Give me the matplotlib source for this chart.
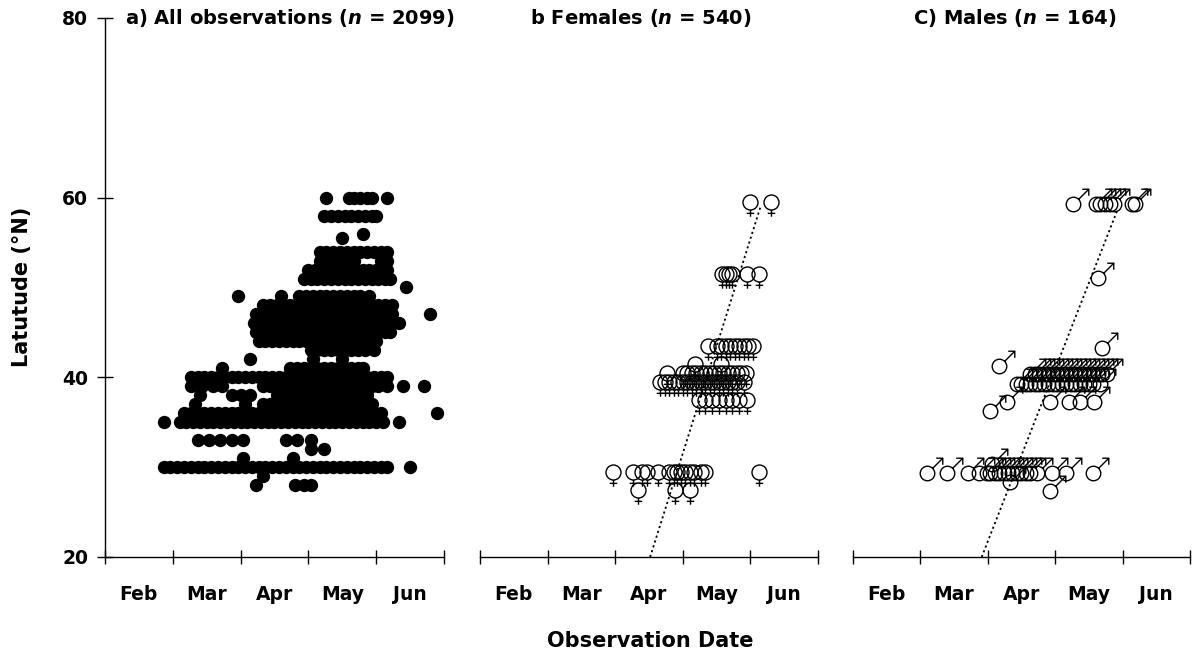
#!/usr/bin/env python3
"""
Latitude vs observation date, three panels: all observations,
females and males (sex symbols as markers), with the fitted trend lines.
"""

import matplotlib
matplotlib.use("Agg")
import matplotlib.pyplot as plt
from matplotlib.path import Path

plt.rcParams["font.family"] = "DejaVu Sans"
plt.rcParams["font.weight"] = "bold"
plt.rcParams["mathtext.fontset"] = "custom"
plt.rcParams["mathtext.it"] = "DejaVu Sans:italic:bold"
plt.rcParams["mathtext.rm"] = "DejaVu Sans:bold"

# x axis: day of the season, each month treated as 30 days (Feb starts at 30)
month_labels = ["Feb", "Mar", "Apr", "May", "Jun"]
month_edges = [30, 60, 90, 120, 150, 180]
month_mids = [45, 75, 105, 135, 165]
lat_ticks = [20, 40, 60, 80]

# a) all observations: latitude rows and the days seen at that latitude
all_lats = [28, 29, 30, 31, 32, 33, 35, 36, 37, 38, 39, 40, 41, 42, 43, 44,
            45, 46, 47, 48, 49, 50, 51, 52, 53, 54, 55.5, 56, 58, 60]
all_days = [
    [97, 114, 118, 121],
    [100],
    [56, 59, 62, 65, 68, 71, 74, 77, 80, 83, 86, 89, 92, 95, 98, 101, 104,
     107, 110, 113, 116, 119, 122, 125, 128, 131, 134, 137, 140, 143, 146,
     149, 152, 155, 165],
    [91, 113],
    [121, 127],
    [71, 76, 81, 86, 91, 110, 115, 121],
    [56, 63, 66, 69, 72, 75, 78, 81, 84, 87, 90, 93, 96, 99, 102, 105, 108,
     111, 114, 117, 120, 123, 126, 129, 132, 135, 138, 141, 144, 147, 150,
     153, 160],
    [65, 68, 71, 74, 77, 80, 83, 86, 89, 92, 95, 98, 101, 104, 107, 110, 113,
     116, 119, 122, 125, 128, 131, 134, 137, 140, 143, 146, 149, 152, 177],
    [70, 92, 100, 103, 106, 109, 112, 115, 118, 121, 124, 127, 130, 133, 136,
     139, 142, 145, 148],
    [72, 86, 90, 94, 106, 109, 112, 115, 118, 121, 124, 127, 130, 133, 136,
     139, 142, 146],
    [68, 73, 78, 82, 100, 103, 106, 109, 112, 115, 118, 121, 124, 127, 130,
     133, 136, 139, 142, 145, 148, 151, 155, 162, 171],
    [68, 71, 74, 77, 80, 83, 86, 89, 92, 95, 98, 101, 104, 107, 110, 113, 116,
     119, 122, 125, 128, 131, 134, 137, 140, 143, 146, 149, 152, 155],
    [82, 112, 115, 118, 121, 124, 127, 130, 133, 136, 139, 142, 144],
    [94, 122, 135],
    [121, 124, 127, 130, 133, 136, 139, 142, 145, 149],
    [98, 101, 104, 107, 110, 113, 116, 119, 122, 125, 128, 131, 134, 137, 140,
     143, 146, 150],
    [97, 100, 103, 106, 109, 112, 115, 118, 121, 124, 127, 130, 133, 136, 139,
     142, 145, 148, 151, 154, 156],
    [96, 99, 102, 105, 108, 111, 114, 117, 120, 123, 126, 129, 132, 135, 138,
     141, 144, 147, 150, 153, 156, 160],
    [97, 100, 103, 106, 109, 112, 115, 118, 121, 124, 127, 130, 133, 136, 139,
     142, 145, 148, 151, 154, 157, 174],
    [100, 103, 106, 109, 112, 115, 118, 121, 124, 127, 130, 133, 136, 139, 142,
     145, 148, 151, 154, 157],
    [89, 108, 116, 119, 122, 125, 128, 131, 134, 137, 140, 143, 147],
    [163],
    [118, 121, 124, 127, 130, 133, 136, 139, 142, 145, 148, 151, 154, 156],
    [120, 123, 126, 129, 132, 135, 138, 141, 144, 147, 150, 153, 155],
    [125, 128, 131, 134, 137, 140, 152, 155],
    [125, 128, 131, 134, 137, 140, 143, 146, 149, 152, 155],
    [135],
    [144],
    [127, 130, 133, 136, 139, 142, 145, 148, 150],
    [128, 138, 140, 143, 146, 148, 155],
]

# b) females
fem_lats = [59.5, 51.5, 43.5, 41.5, 40.5, 39.5, 37.5, 29.5, 27.5]
fem_days = [
    [150, 159],
    [137.5, 139, 140.5, 142, 148.5, 154],
    [131, 135, 137, 139, 141, 143, 145, 147, 149, 151],
    [125.5, 137],
    [113, 120, 122, 124, 126, 128, 130, 132, 134, 136, 138, 140, 142, 144,
     146, 148],
    [110, 112, 114, 116, 118, 120, 122, 124, 126, 128, 130, 132, 134, 136,
     138, 140, 142, 144, 147],
    [127, 130, 133, 136, 139, 142, 145, 148.5],
    [89, 98, 102, 104, 109, 114, 116, 117.5, 119, 121, 123, 125, 128, 130,
     154],
    [100, 116.5, 123],
]
fem_trend_days = [105.5, 154.5]
fem_trend_lats = [20, 59]

# c) males
male_lats = [59.3, 51.1, 43.3, 41.3, 40.4, 39.3, 37.2, 36.3, 30.4, 29.4,
             28.3, 27.4]
male_days = [
    [128, 138, 140, 142, 144.5, 146, 154, 155.5],
    [139],
    [141],
    [95],
    [109, 111, 113, 115, 117, 119, 121, 123, 125, 127, 129, 131, 133, 135,
     137, 139, 141, 143],
    [103, 105, 107, 109, 111, 113, 115, 117, 119, 121, 123, 125, 127, 129,
     131, 133, 135, 137, 140],
    [98.5, 117.5, 126, 131, 137.5],
    [91],
    [92],
    [63, 72, 81, 86, 89.5, 91, 93, 95, 97, 99, 101, 103, 105, 107, 109, 112,
     118.5, 125, 137],
    [100],
    [117.5],
]
male_trend_days = [87.3, 147.5]
male_trend_lats = [20, 58.5]


def flatten(lats, days):
    xs, ys = [], []
    for lat, row in zip(lats, days):
        xs.extend(row)
        ys.extend([lat] * len(row))
    return xs, ys


def female_marker():
    # circle centred on the point, cross below it
    circle = Path.circle((0, 0), 1.0)
    stem = Path([(0, -1.0), (0, -1.9)], [Path.MOVETO, Path.LINETO])
    bar = Path([(-0.5, -1.45), (0.5, -1.45)], [Path.MOVETO, Path.LINETO])
    return Path.make_compound_path(circle, stem, bar)


def male_marker():
    # circle centred on the point, arrow to the upper right
    circle = Path.circle((0, 0), 1.0)
    shaft = Path([(0.707, 0.707), (2.1, 2.1)], [Path.MOVETO, Path.LINETO])
    head = Path([(1.2, 2.1), (2.1, 2.1), (2.1, 1.2)],
                [Path.MOVETO, Path.LINETO, Path.LINETO])
    return Path.make_compound_path(circle, shaft, head)


def style_axis(ax, show_y):
    ax.set_xlim(month_edges[0], month_edges[-1])
    ax.set_ylim(20, 80)
    ax.set_xticks(month_edges)
    ax.set_xticklabels([])
    ax.set_xticks(month_mids, minor=True)
    ax.set_xticklabels(month_labels, minor=True, fontsize=13.5,
                       fontweight="bold")
    ax.tick_params(axis="x", which="major", direction="inout", length=10,
                   width=1.0)
    ax.tick_params(axis="x", which="minor", length=0, pad=20)
    ax.spines["top"].set_visible(False)
    ax.spines["right"].set_visible(False)
    ax.spines["bottom"].set_linewidth(1.0)
    if show_y:
        ax.set_yticks(lat_ticks)
        ax.set_yticklabels([str(t) for t in lat_ticks], fontsize=13.5,
                           fontweight="bold")
        ax.tick_params(axis="y", direction="inout", length=11, width=1.0,
                       pad=6.5)
        ax.spines["left"].set_linewidth(1.0)
    else:
        ax.set_yticks([])
        ax.spines["left"].set_visible(False)


def main():
    fig = plt.figure(figsize=(11.98, 6.59), dpi=100)
    bottom, height = 0.1548, 0.8179
    ax_a = fig.add_axes([0.0876, bottom, 0.2830, height])
    ax_b = fig.add_axes([0.4007, bottom, 0.2821, height])
    ax_c = fig.add_axes([0.7120, bottom, 0.2813, height])

    # a) all observations
    xs, ys = flatten(all_lats, all_days)
    ax_a.plot(xs, ys, linestyle="none", marker="o", ms=9.6, mfc="black",
              mec="black", mew=0)
    style_axis(ax_a, True)
    ax_a.text(0.059, 1.0, r"a) All observations ($n$ = 2099)",
              transform=ax_a.transAxes, fontsize=14, fontweight="bold",
              ha="left", va="center")

    # b) females
    xs, ys = flatten(fem_lats, fem_days)
    ax_b.plot(xs, ys, linestyle="none", marker=female_marker(), ms=20.5,
              mfc="none", mec="black", mew=1.0)
    ax_b.plot(fem_trend_days, fem_trend_lats, color="black", lw=1.3,
              linestyle=(0, (1.2, 1.6)))
    style_axis(ax_b, False)
    ax_b.text(0.148, 1.0, r"b Females ($n$ = 540)",
              transform=ax_b.transAxes, fontsize=14, fontweight="bold",
              ha="left", va="center")

    # c) males
    xs, ys = flatten(male_lats, male_days)
    ax_c.plot(xs, ys, linestyle="none", marker=male_marker(), ms=22,
              mfc="none", mec="black", mew=1.0)
    ax_c.plot(male_trend_days, male_trend_lats, color="black", lw=1.3,
              linestyle=(0, (1.2, 1.6)))
    style_axis(ax_c, False)
    ax_c.text(0.178, 1.0, r"C) Males ($n$ = 164)",
              transform=ax_c.transAxes, fontsize=14, fontweight="bold",
              ha="left", va="center")

    fig.text(0.0184, 0.5645, "Latutude (°N)", rotation=90, fontsize=15,
             fontweight="bold", ha="center", va="center")
    fig.text(0.5426, 1 - 641 / 659, "Observation Date", fontsize=15,
             fontweight="bold", ha="center", va="center")

    fig.savefig("out.png", dpi=100)


if __name__ == "__main__":
    main()
